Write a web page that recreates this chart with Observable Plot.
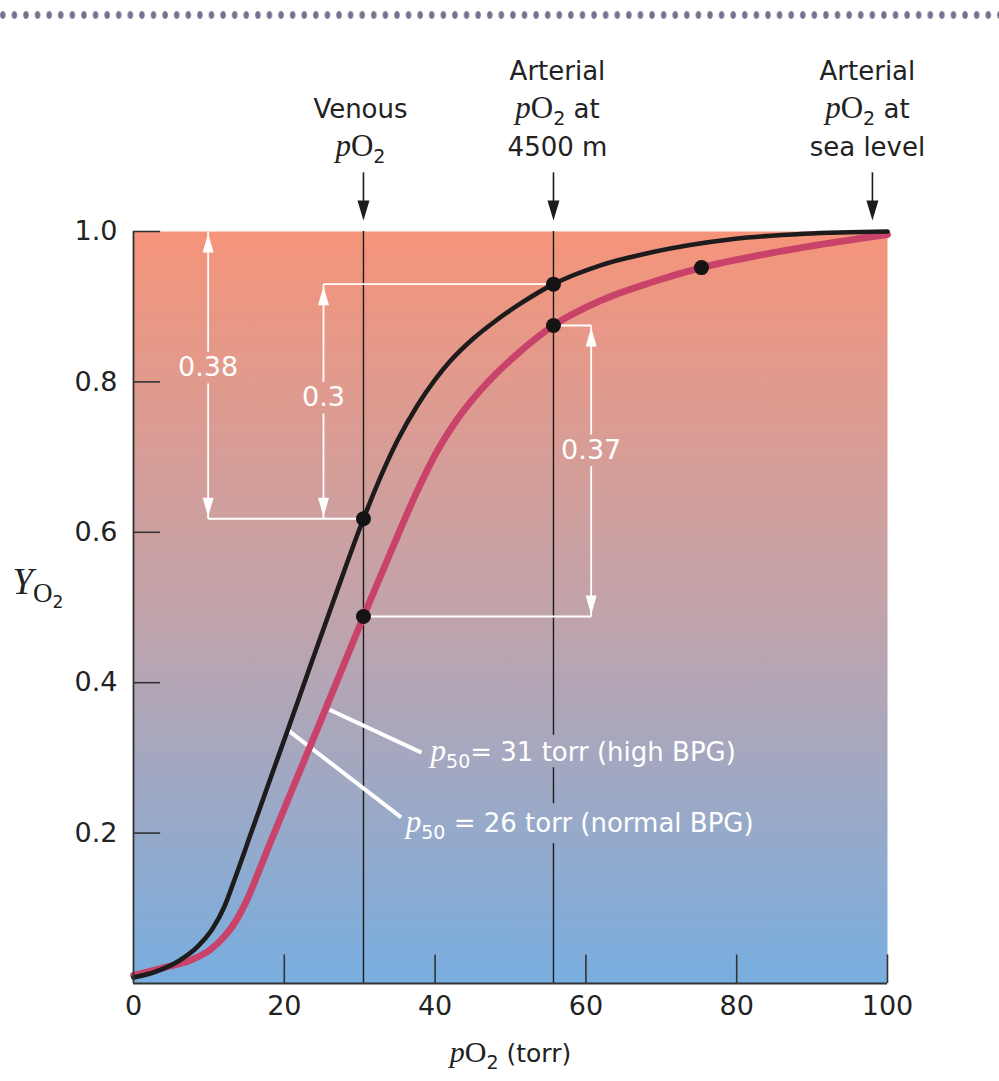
<!DOCTYPE html>
<html>
<head>
<meta charset="utf-8">
<script src="https://cdn.jsdelivr.net/npm/d3@7"></script>
<script src="https://cdn.jsdelivr.net/npm/@observablehq/plot@0.6"></script>
<style>
  html, body { margin: 0; padding: 0; background: #ffffff; }
  #wrap { position: relative; width: 999px; height: 1081px; overflow: hidden; }
  #deco {
    position: absolute; left: -3px; top: 10px; width: 1010px; height: 10px;
    background-image: radial-gradient(ellipse 3.2px 4.6px at center, #777190 0, #777190 70%, rgba(119,113,144,0) 100%);
    background-size: 11.6px 10px; background-repeat: repeat-x;
  }
  svg { display: block; }
</style>
</head>
<body>
<div id="wrap"><div id="deco"></div><div id="chart"></div></div>
<script>
// ---------- data ----------
// Normal BPG curve (p50 = 26 torr) — black
const pO2Normal = [0, 3, 6, 8.5, 10.5, 12, 13.5, 15.52, 18.17, 20.42, 23.47, 26.53, 30.5, 33, 35.01, 37.67, 40, 42.04, 45, 48, 51, 55.7, 61.94, 68.57, 79.58, 88.99, 100];
const satNormal = [0.008, 0.016, 0.030, 0.049, 0.073, 0.101, 0.141, 0.198, 0.273, 0.336, 0.423, 0.509, 0.618, 0.679, 0.722, 0.769, 0.803, 0.828, 0.857, 0.881, 0.902, 0.930, 0.955, 0.972, 0.990, 0.997, 1.0];
// High BPG curve (p50 = 31 torr) — red
const pO2High = [0, 4, 7.6, 10.2, 12, 13.5, 15, 16.45, 18.17, 21.75, 24.4, 27.85, 30.5, 33.16, 35.01, 37.5, 40, 42.5, 45, 48, 51, 55.7, 61.94, 68.57, 75.33, 84.35, 93.77, 100];
const satHigh = [0.011, 0.021, 0.031, 0.045, 0.062, 0.082, 0.110, 0.145, 0.188, 0.275, 0.339, 0.423, 0.488, 0.551, 0.595, 0.652, 0.703, 0.744, 0.777, 0.810, 0.838, 0.875, 0.908, 0.932, 0.952, 0.971, 0.987, 0.996];

// marked points
const dotPO2 = [30.5, 55.7, 30.5, 55.7, 75.33];
const dotSat = [0.618, 0.930, 0.488, 0.875, 0.952];

// reference pO2 markers
const markerPO2 = [30.5, 55.7, 98];
const markerLabels = [["Venous", "pO2"], ["Arterial", "pO2 at", "4500 m"], ["Arterial", "pO2 at", "sea level"]];

// axes
const xTickLabels = [0, 20, 40, 60, 80, 100];
const xTickMarks = [20, 40, 60, 80, 100];
const yTicks = [0.2, 0.4, 0.6, 0.8, 1.0];

// differences (brackets)
const bracketLabel = ["0.38", "0.3", "0.37"];
const bracketX = [9.9, 25.2, 60.7];
const bracketTop = [1.0, 0.930, 0.875];
const bracketBottom = [0.618, 0.618, 0.488];
const bracketLabelY = [0.819, 0.779, 0.709];

// curve labels
const legendText = ["p50= 31 torr (high BPG)", "p50 = 26 torr (normal BPG)"];
const legendFromX = [26.0, 20.6], legendFromY = [0.364, 0.336];
const legendToX = [38.2, 35.5], legendToY = [0.307, 0.221];
const legendTextX = [39.4, 36.1], legendTextY = [0.307, 0.213];

// ---------- build tables ----------
const normal = pO2Normal.map((x, i) => ({x, y: satNormal[i]}));
const high = pO2High.map((x, i) => ({x, y: satHigh[i]}));
const dots = dotPO2.map((x, i) => ({x, y: dotSat[i]}));

const GAP = 0.021;
const bracketSegs = [];
const tipsUp = [], tipsDown = [];
bracketX.forEach((x, i) => {
  bracketSegs.push({x1: x, x2: x, y1: bracketTop[i], y2: bracketLabelY[i] + GAP});
  bracketSegs.push({x1: x, x2: x, y1: bracketLabelY[i] - GAP, y2: bracketBottom[i]});
  tipsUp.push({x, y: bracketTop[i]});
  tipsDown.push({x, y: bracketBottom[i]});
});
const hLines = [
  {x1: bracketX[0], x2: dotPO2[0], y: bracketBottom[0]},
  {x1: bracketX[1], x2: dotPO2[1], y: bracketTop[1]},
  {x1: dotPO2[3], x2: bracketX[2], y: bracketTop[2]},
  {x1: dotPO2[2], x2: bracketX[2], y: bracketBottom[2]}
];
const bracketLabels = bracketX.map((x, i) => ({x, y: bracketLabelY[i], t: bracketLabel[i]}));

const legend = legendText.map((t, i) => ({t, x1: legendFromX[i], y1: legendFromY[i], x2: legendToX[i], y2: legendToY[i], tx: legendTextX[i], ty: legendTextY[i]}));

// 4500 m line, interrupted behind the curve labels
const gaps = [[legendTextY[1] - 0.027, legendTextY[1] + 0.026], [legendTextY[0] - 0.020, legendTextY[0] + 0.023]];
const arterialSegs = [
  {x: markerPO2[1], y1: 0, y2: gaps[0][0]},
  {x: markerPO2[1], y1: gaps[0][1], y2: gaps[1][0]},
  {x: markerPO2[1], y1: gaps[1][1], y2: 1}
];

// header lines, bottom-aligned
const headerDy = [-94, -132, -170];
const headerDx = [-3, 4, -5];
const headerMarks = [];
markerLabels.forEach((lines, m) => {
  lines.forEach((t, j) => {
    const k = lines.length - 1 - j;
    headerMarks.push(Plot.text([t], {x: markerPO2[m], text: d => d, frameAnchor: "top", dx: headerDx[m], dy: headerDy[k], fontSize: 26, fill: "#222"}));
  });
});

// arrowhead symbols (tip at origin)
const arrowDown = (w, l) => ({draw(ctx) { ctx.moveTo(0, 0); ctx.lineTo(-w / 2, -l); ctx.lineTo(w / 2, -l); ctx.closePath(); }});
const arrowUp = (w, l) => ({draw(ctx) { ctx.moveTo(0, 0); ctx.lineTo(-w / 2, l); ctx.lineTo(w / 2, l); ctx.closePath(); }});

const SANS = "'DejaVu Sans', sans-serif";
const SERIF = "'Liberation Serif', 'DejaVu Serif', serif";
const INK = "#1d1b1c";
const RED = "#C8426A";
const AXIS = "#333333";

const chart = Plot.plot({
  width: 999,
  height: 1081,
  marginTop: 231,
  marginBottom: 98,
  marginLeft: 133,
  marginRight: 112,
  x: {domain: [0, 100], axis: null},
  y: {domain: [0, 1], axis: null},
  style: {background: "transparent", overflow: "visible", fontFamily: SANS},
  marks: [
    Plot.frame({fill: "url(#bgGrad)", stroke: "none"}),
    // reference verticals
    Plot.ruleX([markerPO2[0]], {y1: 0, y2: 1, stroke: INK, strokeWidth: 1.4}),
    Plot.ruleX(arterialSegs, {x: "x", y1: "y1", y2: "y2", stroke: INK, strokeWidth: 1.4}),
    // header arrows
    Plot.ruleX(markerPO2, {y1: 1.078, y2: 1.03, stroke: INK, strokeWidth: 1.6}),
    Plot.dot(markerPO2, {x: d => d, y: 1.0146, symbol: arrowDown(12, 20), r: 5, fill: INK, stroke: "none"}),
    // header labels
    ...headerMarks,
    // white brackets
    Plot.link(bracketSegs, {x1: "x1", y1: "y1", x2: "x2", y2: "y2", stroke: "white", strokeWidth: 1.8}),
    Plot.link(hLines, {x1: "x1", x2: "x2", y1: "y", y2: "y", stroke: "white", strokeWidth: 1.8}),
    Plot.dot(tipsUp, {x: "x", y: "y", dy: 2, symbol: arrowUp(11, 19), r: 5, fill: "white", stroke: "none"}),
    Plot.dot(tipsDown, {x: "x", y: "y", dy: -2, symbol: arrowDown(11, 19), r: 5, fill: "white", stroke: "none"}),
    Plot.text(bracketLabels, {x: "x", y: "y", text: "t", fill: "white", fontSize: 27}),
    // leader lines
    Plot.link(legend, {x1: "x1", y1: "y1", x2: "x2", y2: "y2", stroke: "white", strokeWidth: 4}),
    // curves
    Plot.line(high, {x: "x", y: "y", stroke: RED, strokeWidth: 6.8, curve: "monotone-x"}),
    Plot.line(normal, {x: "x", y: "y", stroke: INK, strokeWidth: 4.6, curve: "monotone-x"}),
    Plot.dot(dots, {x: "x", y: "y", r: 7.5, fill: "#151313", stroke: "none"}),
    // curve labels
    Plot.text(legend, {x: "tx", y: "ty", text: "t", textAnchor: "start", fill: "white", fontSize: 26}),
    // axes
    Plot.ruleX([0], {y1: 0, y2: 1, stroke: AXIS, strokeWidth: 1.8}),
    Plot.ruleY([0], {x1: 0, x2: 100, stroke: AXIS, strokeWidth: 2}),
    Plot.ruleY(yTicks, {x1: 0, x2: 3.6, stroke: AXIS, strokeWidth: 1.6}),
    Plot.ruleX(xTickMarks, {y1: 0, y2: 0.038, stroke: AXIS, strokeWidth: 1.6}),
    Plot.text(yTicks, {y: d => d, text: d => d.toFixed(1), frameAnchor: "left", dx: -16, textAnchor: "end", fontSize: 27, fill: "#222"}),
    Plot.text(xTickLabels, {x: d => d, text: d => String(d), frameAnchor: "bottom", dy: 31, fontSize: 27, fill: "#222"}),
    Plot.text(["pO2 (torr)"], {frameAnchor: "bottom", dy: 78, fontSize: 25, fill: "#222"}),
    Plot.text(["YO2"], {frameAnchor: "left", textAnchor: "start", dx: -121, dy: -22, fontSize: 26, fill: "#222"})
  ]
});

// gradient background
const NS = "http://www.w3.org/2000/svg";
const defs = document.createElementNS(NS, "defs");
defs.innerHTML = `<linearGradient id="bgGrad" x1="0" y1="0" x2="0" y2="1">
  <stop offset="0" stop-color="#F5947A"/>
  <stop offset="0.5" stop-color="#C2A3AA"/>
  <stop offset="1" stop-color="#78AEE0"/>
</linearGradient>`;
chart.insertBefore(defs, chart.firstChild);

// rich text: italic serif variables and subscripts
const seg = (t, o = {}) => ({t, ...o});
const pO = [seg("p", {ff: SERIF, fs: 31, it: true}), seg("O", {ff: SERIF, fs: 31}), seg("2", {fs: 19, sh: 7})];
const rich = {
  "pO2": pO,
  "pO2 at": [...pO, seg(" at")],
  "pO2 (torr)": [seg("p", {ff: SERIF, fs: 30, it: true}), seg("O", {ff: SERIF, fs: 30}), seg("2", {fs: 19, sh: 7}), seg(" (torr)")],
  "YO2": [seg("Y", {ff: SERIF, fs: 37, it: true}), seg("O", {ff: SERIF, fs: 27, sh: 8}), seg("2", {fs: 17, sh: 14})],
  "p50= 31 torr (high BPG)": [seg("p", {ff: SERIF, fs: 31, it: true}), seg("50", {fs: 19, sh: 7}), seg("= 31 torr (high BPG)")],
  "p50 = 26 torr (normal BPG)": [seg("p", {ff: SERIF, fs: 31, it: true}), seg("50", {fs: 19, sh: 7}), seg(" = 26 torr (normal BPG)")]
};
chart.querySelectorAll("text").forEach(el => {
  const spec = rich[el.textContent];
  if (!spec) return;
  el.textContent = "";
  let cur = 0;
  for (const s of spec) {
    const ts = document.createElementNS(NS, "tspan");
    if (s.ff) ts.setAttribute("font-family", s.ff);
    if (s.fs) ts.setAttribute("font-size", s.fs);
    if (s.it) ts.setAttribute("font-style", "italic");
    const sh = s.sh || 0;
    if (sh !== cur) { ts.setAttribute("dy", sh - cur); cur = sh; }
    ts.textContent = s.t;
    el.appendChild(ts);
  }
});

document.getElementById("chart").appendChild(chart);
</script>
</body>
</html>
